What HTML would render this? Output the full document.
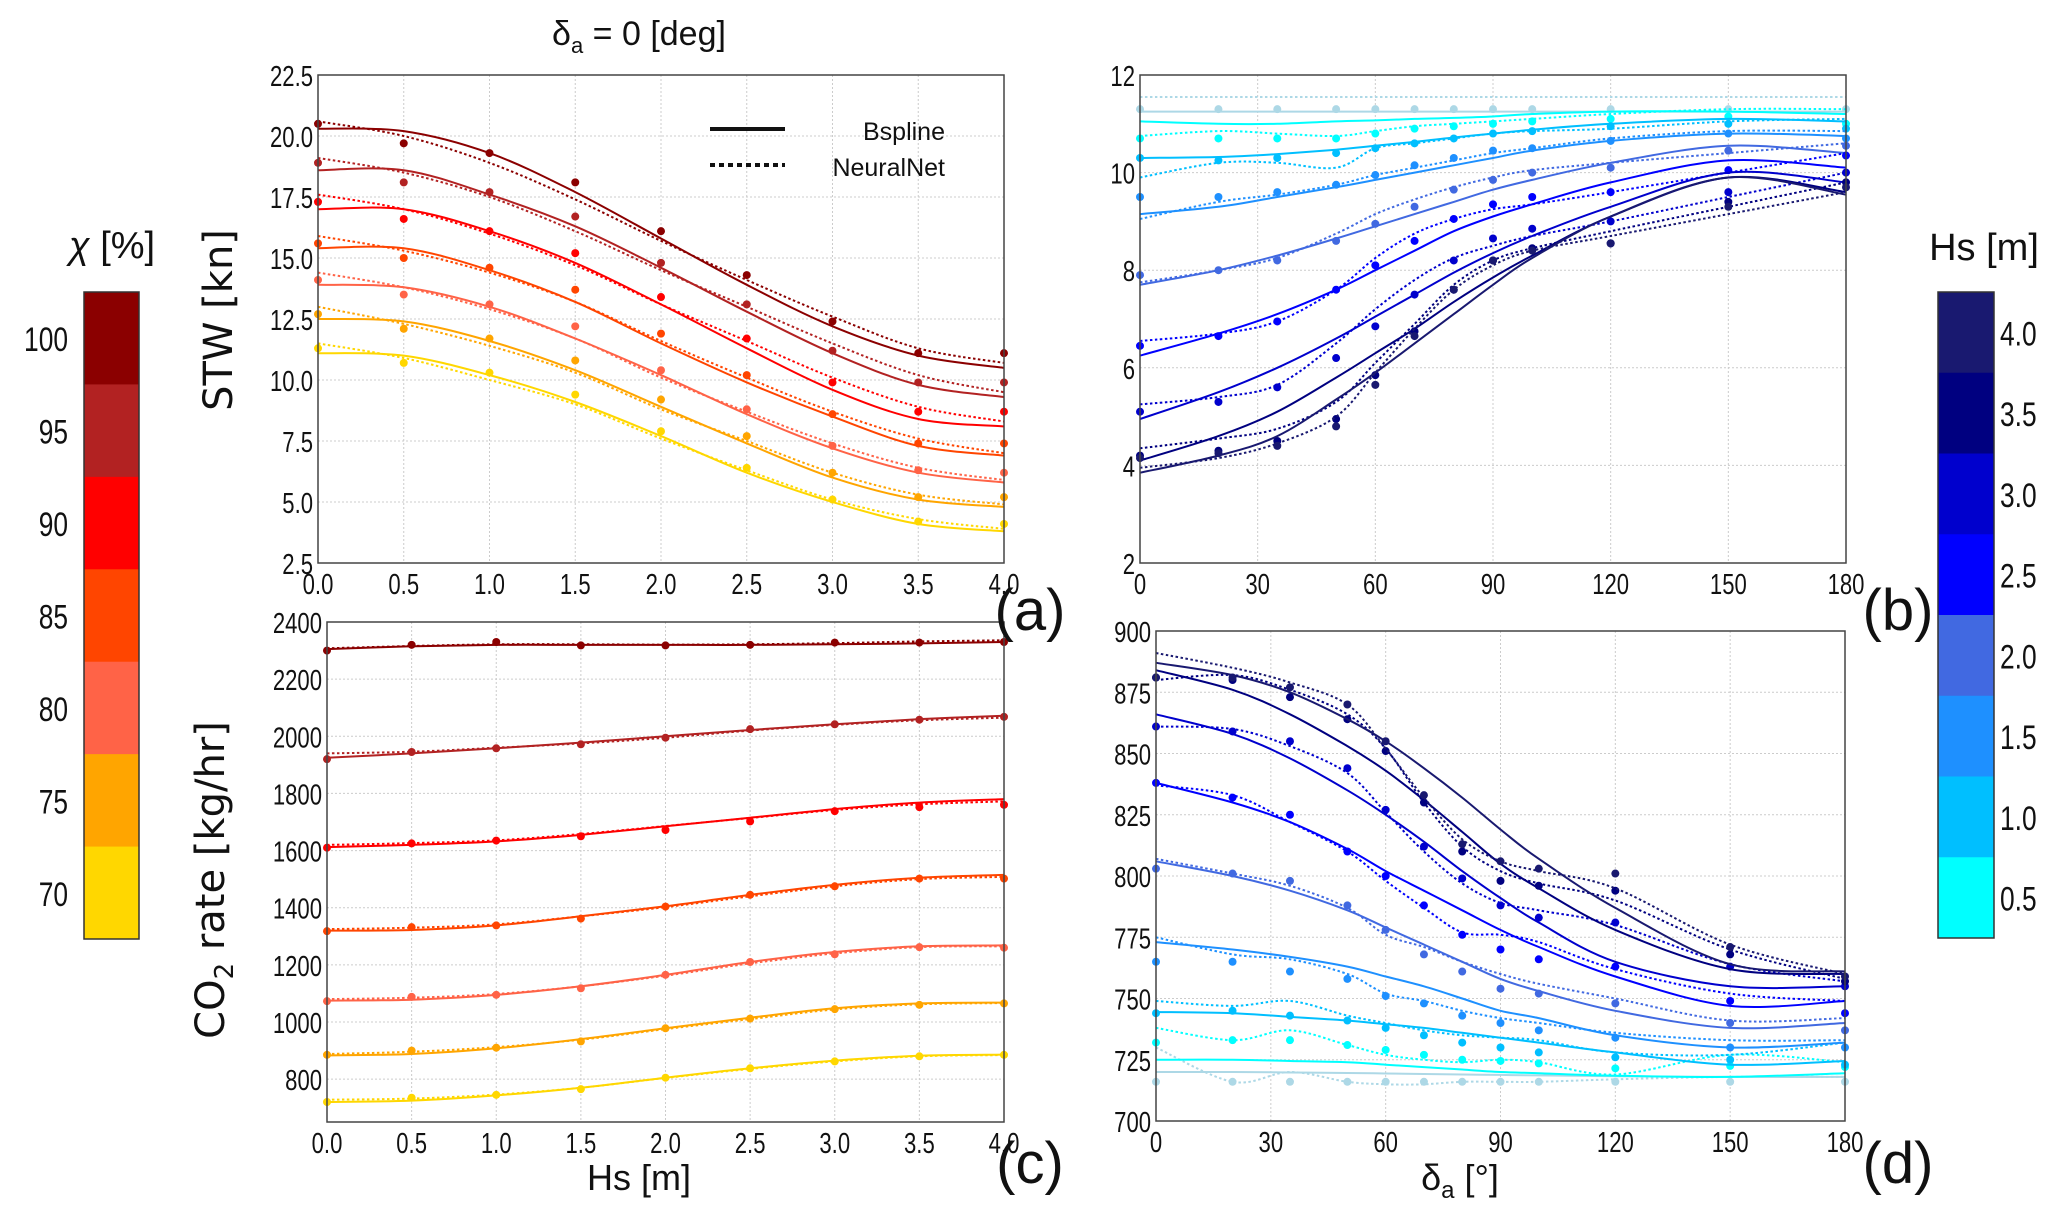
<!DOCTYPE html>
<html><head><meta charset="utf-8">
<style>
html,body{margin:0;padding:0;background:#fff;}
svg{display:block;font-family:"Liberation Sans Narrow","Liberation Sans",sans-serif;}
</style></head>
<body>
<svg id="fig" width="2067" height="1217" viewBox="0 0 2067 1217" xmlns="http://www.w3.org/2000/svg"></svg>
<script>
// ---------- DATA ----------
const hsX = [0,0.5,1,1.5,2,2.5,3,3.5,4];
const chiLevels = [100,95,90,85,80,75,70];
const chiColors = ["#8B0000","#B22222","#FF0000","#FF4500","#FF6347","#FFA500","#FFD700"];
// panel a: STW
const aPts = [
 [20.5,19.7,19.3,18.1,16.1,14.3,12.4,11.1,11.1],
 [18.9,18.1,17.7,16.7,14.8,13.1,11.2,9.9,9.9],
 [17.3,16.6,16.1,15.2,13.4,11.7,9.9,8.7,8.7],
 [15.6,15.0,14.6,13.7,11.9,10.2,8.6,7.4,7.4],
 [14.1,13.5,13.1,12.2,10.4,8.8,7.3,6.3,6.2],
 [12.7,12.1,11.7,10.8,9.2,7.7,6.2,5.2,5.2],
 [11.3,10.7,10.3,9.4,7.9,6.4,5.1,4.2,4.1]];
const aSpl = [
 [20.3,20.2,19.3,17.7,15.8,13.9,12.2,11.0,10.5],
 [18.6,18.6,17.6,16.3,14.6,12.8,11.1,9.8,9.3],
 [17.0,17.0,16.1,14.8,13.1,11.3,9.6,8.4,8.1],
 [15.4,15.4,14.5,13.2,11.5,9.9,8.5,7.3,6.9],
 [13.9,13.8,13.0,11.7,10.2,8.6,7.2,6.2,5.8],
 [12.5,12.4,11.6,10.4,8.9,7.4,6.0,5.1,4.8],
 [11.1,11.0,10.2,9.1,7.7,6.2,5.0,4.1,3.8]];
const aNN = [
 [20.6,20.0,18.9,17.4,15.7,14.1,12.6,11.3,10.7],
 [19.1,18.5,17.5,16.1,14.5,13.0,11.5,10.2,9.5],
 [17.6,17.0,16.0,14.7,13.1,11.6,10.1,8.9,8.3],
 [15.9,15.3,14.4,13.2,11.6,10.1,8.7,7.6,7.0],
 [14.4,13.8,12.9,11.7,10.1,8.7,7.4,6.4,5.9],
 [13.0,12.3,11.4,10.3,8.8,7.5,6.2,5.3,4.9],
 [11.5,10.9,10.0,9.0,7.6,6.3,5.1,4.3,3.9]];
const aTicksY = [2.5,5.0,7.5,10.0,12.5,15.0,17.5,20.0,22.5];
const hsTicks = [0,0.5,1,1.5,2,2.5,3,3.5,4];
// panel c: CO2
const cPts = [
 [2300,2320,2330,2318,2318,2320,2328,2328,2330],
 [1920,1945,1958,1972,1995,2025,2042,2058,2068],
 [1610,1625,1635,1650,1672,1702,1738,1752,1760],
 [1318,1332,1338,1362,1404,1445,1475,1502,1502],
 [1073,1088,1095,1118,1165,1210,1237,1262,1260],
 [885,900,910,932,978,1012,1045,1060,1065],
 [720,735,745,765,805,838,862,880,885]];
const cSpl = [
 [2305,2315,2320,2320,2320,2320,2322,2325,2330],
 [1925,1940,1958,1978,2000,2022,2042,2060,2072],
 [1612,1620,1632,1655,1685,1715,1745,1768,1780],
 [1320,1322,1338,1370,1405,1445,1480,1505,1515],
 [1075,1078,1095,1125,1165,1210,1245,1265,1268],
 [883,888,908,940,978,1015,1048,1065,1068],
 [720,725,743,770,805,838,865,882,886]];
const cNN = [
 [2308,2316,2322,2322,2321,2322,2326,2332,2336],
 [1940,1946,1960,1975,1995,2020,2040,2056,2065],
 [1620,1626,1636,1658,1686,1714,1742,1762,1772],
 [1325,1330,1342,1370,1402,1440,1475,1500,1508],
 [1080,1085,1098,1125,1162,1205,1240,1262,1265],
 [888,896,912,938,975,1010,1044,1062,1066],
 [728,732,746,770,804,836,862,880,884]];
const cTicksY = [800,1000,1200,1400,1600,1800,2000,2200,2400];
// panels b,d
const daX = [0,20,35,50,60,70,80,90,100,120,150,180];
const hsLevels = [4.0,3.5,3.0,2.5,2.0,1.5,1.0,0.5];
const hsBarColors = ["#191970","#000080","#0000CD","#0000FF","#4169E1","#1E90FF","#00BFFF","#00FFFF"];
const seriesColors = ["#ADD8E6","#00FFFF","#00BFFF","#1E90FF","#4169E1","#0000FF","#0000CD","#000080","#191970"];
const bPts = [
 [11.3,11.3,11.3,11.3,11.3,11.3,11.3,11.3,11.3,11.3,11.3,11.3],
 [10.7,10.7,10.7,10.7,10.8,10.9,10.95,11.0,11.05,11.1,11.15,11.0],
 [10.3,10.25,10.3,10.4,10.5,10.6,10.7,10.8,10.85,10.95,11.0,10.9],
 [9.5,9.5,9.6,9.75,9.95,10.15,10.3,10.45,10.5,10.65,10.8,10.7],
 [7.9,8.0,8.2,8.6,8.95,9.3,9.65,9.85,10.0,10.1,10.45,10.55],
 [6.45,6.65,6.95,7.6,8.1,8.6,9.05,9.35,9.5,9.6,10.05,10.35],
 [5.1,5.3,5.6,6.2,6.85,7.5,8.2,8.65,8.85,9.0,9.6,10.0],
 [4.2,4.3,4.5,4.95,5.85,6.75,7.6,8.2,8.45,8.55,9.4,9.8],
 [4.15,4.25,4.4,4.8,5.65,6.65,7.6,8.2,8.4,8.55,9.3,9.7]];
const bSpl = [
 [11.25,11.25,11.25,11.25,11.25,11.25,11.25,11.25,11.25,11.25,11.25,11.25],
 [11.05,11.0,11.0,11.05,11.07,11.1,11.12,11.15,11.2,11.25,11.25,11.2],
 [10.3,10.32,10.38,10.47,10.55,10.63,10.72,10.8,10.88,11.0,11.1,11.05],
 [9.15,9.3,9.5,9.7,9.85,10.0,10.15,10.3,10.45,10.65,10.8,10.75],
 [7.7,8.0,8.3,8.65,8.9,9.15,9.4,9.65,9.85,10.2,10.55,10.4],
 [6.25,6.7,7.1,7.6,8.0,8.4,8.8,9.1,9.35,9.8,10.25,10.1],
 [4.95,5.5,6.0,6.6,7.05,7.5,7.95,8.35,8.7,9.3,10.0,9.8],
 [4.1,4.6,5.1,5.8,6.3,6.8,7.35,7.85,8.3,9.1,9.9,9.6],
 [3.85,4.2,4.6,5.35,5.9,6.5,7.1,7.7,8.25,9.1,9.9,9.55]];
const bNN = [
 [11.55,11.55,11.55,11.55,11.55,11.55,11.55,11.55,11.55,11.55,11.55,11.55],
 [10.75,10.85,10.8,10.75,10.85,10.95,11.0,11.05,11.1,11.2,11.3,11.3],
 [9.9,10.2,10.2,10.1,10.5,10.6,10.7,10.8,10.85,10.9,11.05,11.1],
 [9.05,9.4,9.55,9.75,9.95,10.1,10.25,10.4,10.5,10.7,10.85,10.85],
 [7.75,8.0,8.25,8.75,9.15,9.45,9.7,9.9,10.05,10.2,10.4,10.6],
 [6.55,6.7,6.95,7.6,8.25,8.75,9.05,9.25,9.35,9.6,10.0,10.4],
 [5.25,5.4,5.65,6.5,7.2,7.8,8.25,8.5,8.7,9.0,9.5,10.0],
 [4.35,4.55,4.75,5.3,6.1,6.9,7.7,8.2,8.45,8.8,9.3,9.8],
 [3.95,4.15,4.45,5.0,5.9,6.8,7.6,8.1,8.4,8.7,9.15,9.6]];
const bTicksY = [2,4,6,8,10,12];
const daTicks = [0,30,60,90,120,150,180];
const dPts = [
 [716,716,716,716,716,716,716,716,716,716,716,716],
 [732,733,733,731,729,727,725,724.5,723.5,721.5,722.5,722],
 [744,745,743,741,738,735,732,730,728,726,725,723],
 [765,765,761,758,751,748,743,740,737,734,730,730],
 [803,801,798,788,778,768,761,754,752,748,740,737],
 [838,832,825,810,800,788,776,770,766,763,749,744],
 [861,859,855,844,827,812,799,788,783,781,763,755],
 [881,880,873,864,851,830,810,798,796,794,768,757],
 [881,881,877,870,855,833,813,806,803,801,771,759]];
const dSpl = [
 [720,720,719.8,719.6,719.4,719.2,719,718.8,718.6,718.3,718,718],
 [725,725,724.5,724,723,722,721,720,719.5,718.5,718,719.5],
 [744.5,744,742.5,741,739.5,738,736,734,732,728,723,724.5],
 [773,770,767,763,759,755,750,745,742,735,730,732],
 [806,800,794,786,779,772,765,758,753,745,738,740],
 [838,830,822,811,802,794,786,778,771,759,747,749],
 [866,858,848,835,825,814,802,791,781,765,755,755],
 [884,876,866,853,843,831,818,805,795,778,762,760],
 [887,882,875,864,855,844,832,819,807,787,764,761]];
const dNN = [
 [730,716,720,716,715,715,716,716,716,717,718,718],
 [738,733,737,731,727,725,724,725,724,719,727,724],
 [749,747,749,743,740,737,735,734,733,728,727,732],
 [775,768,766,760,752,749,745,742,740,736,733,733],
 [807,801,796,787,776,771,765,760,756,750,741,742],
 [837,833,822,810,798,787,777,776,773,762,752,749],
 [861,860,853,842,826,810,797,789,786,780,764,757],
 [880,882,876,866,852,830,812,802,797,790,770,758],
 [891,885,879,870,852,832,815,806,802,795,772,760]];
const dTicksY = [700,725,750,775,800,825,850,875,900];

// ---------- DRAW ----------
const NS="http://www.w3.org/2000/svg";
const svg=document.getElementById('fig');
function mk(tag,attrs,parent){const e=document.createElementNS(NS,tag);for(const k in attrs)e.setAttribute(k,attrs[k]);(parent||svg).appendChild(e);return e;}
function txt(s,attrs,parent){const e=mk('text',attrs,parent);e.textContent=s;return e;}
function smooth(pts){let d='M'+pts[0][0].toFixed(1)+','+pts[0][1].toFixed(1);
 for(let i=0;i<pts.length-1;i++){const p0=pts[Math.max(0,i-1)],p1=pts[i],p2=pts[i+1],p3=pts[Math.min(pts.length-1,i+2)];
  const c1x=p1[0]+(p2[0]-p0[0])/6,c1y=p1[1]+(p2[1]-p0[1])/6,c2x=p2[0]-(p3[0]-p1[0])/6,c2y=p2[1]-(p3[1]-p1[1])/6;
  d+=' C'+c1x.toFixed(1)+','+c1y.toFixed(1)+' '+c2x.toFixed(1)+','+c2y.toFixed(1)+' '+p2[0].toFixed(1)+','+p2[1].toFixed(1);}
 return d;}

function narrowText(s,x,y,anchor,size,parent){
 const t=txt(s,{x:0,y:0,'font-size':size,'text-anchor':anchor,fill:'#111',transform:'translate('+x+','+y+') scale(0.85,1.12)'},parent);
 return t;
}

function panel(cfg){
 const g=mk('g',{});
 
 
 const sx=v=>cfg.x0+(v-cfg.xmin)/(cfg.xmax-cfg.xmin)*(cfg.x1-cfg.x0);
 const sy=v=>cfg.y1-(v-cfg.ymin)/(cfg.ymax-cfg.ymin)*(cfg.y1-cfg.y0);
 cfg.xt.forEach(t=>{const l=mk('line',{x1:sx(t),x2:sx(t),y1:cfg.y0,y2:cfg.y1,stroke:'#ccc','stroke-width':1,'stroke-dasharray':'2,2'},g);
  
  const tl=narrowText(cfg.xfmt(t),sx(t),cfg.y1+31,'middle',26,g);
  });
 cfg.yt.forEach(t=>{const l=mk('line',{x1:cfg.x0,x2:cfg.x1,y1:sy(t),y2:sy(t),stroke:'#ccc','stroke-width':1,'stroke-dasharray':'2,2'},g);
  
  const tl=narrowText(cfg.yfmt(t),cfg.x0-5,sy(t)+11,'end',26,g);
  });
 cfg.spl.forEach((s,i)=>{
  const p=mk('path',{d:smooth(s.map((v,j)=>[sx(cfg.xs[j]),sy(v)])),fill:'none',stroke:cfg.colors[i],'stroke-width':2},g);
  
  const q=mk('path',{d:smooth(cfg.nn[i].map((v,j)=>[sx(cfg.xs[j]),sy(v)])),fill:'none',stroke:cfg.colors[i],'stroke-width':2,'stroke-dasharray':'2.5,2.5'},g);
  
  cfg.pts[i].forEach((v,j)=>{const c=mk('circle',{cx:sx(cfg.xs[j]),cy:sy(v),r:4,fill:cfg.colors[i]},g);
   });
 });
 const f=mk('rect',{x:cfg.x0,y:cfg.y0,width:cfg.x1-cfg.x0,height:cfg.y1-cfg.y0,fill:'none',stroke:'#444','stroke-width':1.5},g);
 
}
const f1=v=>v.toFixed(1), f0=v=>String(v);
panel({name:'panel-a-stw',x0:318,x1:1004,y0:75,y1:563,xmin:0,xmax:4,ymin:2.5,ymax:22.5,xt:hsTicks,yt:aTicksY,xfmt:f1,yfmt:f1,xs:hsX,pts:aPts,spl:aSpl,nn:aNN,colors:chiColors});
panel({name:'panel-c-co2',x0:327,x1:1004,y0:622,y1:1122,xmin:0,xmax:4,ymin:650,ymax:2400,xt:hsTicks,yt:cTicksY,xfmt:f1,yfmt:f0,xs:hsX,pts:cPts,spl:cSpl,nn:cNN,colors:chiColors});
panel({name:'panel-b-stw',x0:1140,x1:1846,y0:75,y1:563,xmin:0,xmax:180,ymin:2,ymax:12,xt:daTicks,yt:bTicksY,xfmt:f0,yfmt:f0,xs:daX,pts:bPts,spl:bSpl,nn:bNN,colors:seriesColors});
panel({name:'panel-d-co2',x0:1156,x1:1845,y0:631,y1:1121,xmin:0,xmax:180,ymin:700,ymax:900,xt:daTicks,yt:dTicksY,xfmt:f0,yfmt:f0,xs:daX,pts:dPts,spl:dSpl,nn:dNN,colors:seriesColors});

// colorbars
function colorbar(name,x,w,y0,y1,cols,labels,labelX,anchor){
 const g=mk('g',{});
 
 
 const h=(y1-y0)/cols.length;
 cols.forEach((c,i)=>{const r=mk('rect',{x:x,y:y0+i*h,width:w,height:h+0.5,fill:c},g);
  
  const t=narrowText(labels[i],labelX,y0+i*h+h/2+13,anchor,31,g);
  });
 const b=mk('rect',{x:x,y:y0,width:w,height:y1-y0,fill:'none',stroke:'#333','stroke-width':1.5},g);
 
}
colorbar('chi-colorbar',84,55,292,939,chiColors,chiLevels.map(String),68,'end');
colorbar('hs-colorbar',1938,56,292,938,hsBarColors,hsLevels.map(v=>v.toFixed(1)),2000,'start');
</script>
<div style="position:absolute;left:0;top:0;width:2067px;height:1217px;pointer-events:none;">
<svg width="2067" height="1217" style="position:absolute;left:0;top:0;font-family:'Liberation Sans Narrow','Liberation Sans',sans-serif;">
 <text x="639" y="45" font-size="34" text-anchor="middle" fill="#111">δ<tspan font-size="22" dy="8">a</tspan><tspan dy="-8"> = 0 [deg]</tspan></text>
 <line x1="710" y1="129" x2="785" y2="129" stroke="#111" stroke-width="4"/>
 <line x1="710" y1="165" x2="785" y2="165" stroke="#111" stroke-width="4" stroke-dasharray="5,4"/>
 <text x="945" y="140" font-size="25" text-anchor="end" fill="#111" font-family="Liberation Sans, sans-serif">Bspline</text>
 <text x="945" y="176" font-size="25" text-anchor="end" fill="#111" font-family="Liberation Sans, sans-serif">NeuralNet</text>
 <text transform="translate(232,320) rotate(-90)" font-size="40" text-anchor="middle" fill="#111" font-family="DejaVu Sans, sans-serif">STW [kn]</text>
 <text transform="translate(224,880) rotate(-90)" font-size="40" text-anchor="middle" fill="#111" font-family="DejaVu Sans, sans-serif">CO<tspan font-size="26" dy="9">2</tspan><tspan dy="-9"> rate [kg/hr]</tspan></text>
 <text x="639" y="1190" font-size="36" text-anchor="middle" fill="#111">Hs [m]</text>
 <text x="1460" y="1190" font-size="36" text-anchor="middle" fill="#111">δ<tspan font-size="24" dy="8">a</tspan><tspan dy="-8"> [°]</tspan></text>
 <text x="112" y="258" font-size="38" text-anchor="middle" fill="#111"><tspan font-style="italic">χ</tspan> [%]</text>
 <text x="1984" y="260" font-size="38" text-anchor="middle" fill="#111">Hs [m]</text>
 <text x="1030" y="630" font-size="58" text-anchor="middle" fill="#111">(a)</text>
 <text x="1898" y="630" font-size="58" text-anchor="middle" fill="#111">(b)</text>
 <text x="1030" y="1183" font-size="58" text-anchor="middle" fill="#111">(c)</text>
 <text x="1898" y="1183" font-size="58" text-anchor="middle" fill="#111">(d)</text>
</svg>
</div>
</body></html>
